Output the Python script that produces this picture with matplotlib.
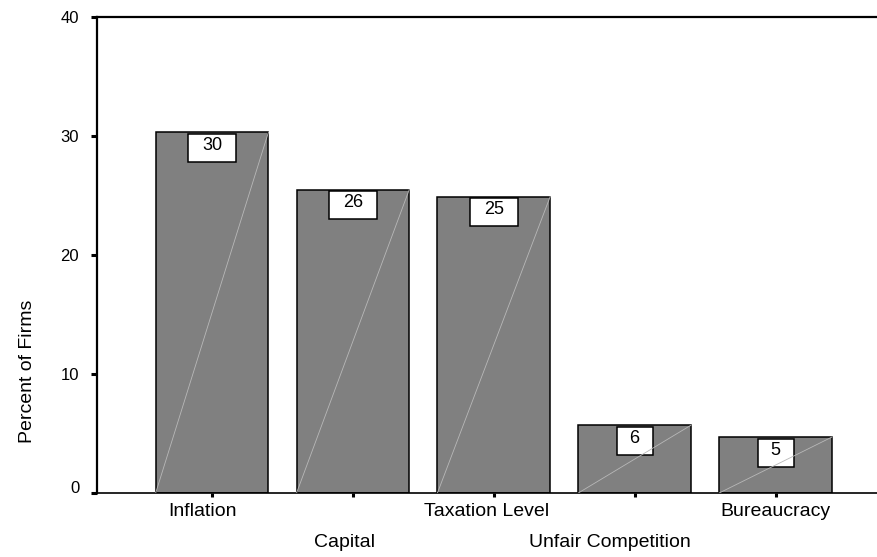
import matplotlib
matplotlib.use("Agg")
import matplotlib.pyplot as plt
import matplotlib.transforms as mtransforms
from matplotlib.patches import Rectangle

plt.rcParams['font.family'] = ['Liberation Sans', 'DejaVu Sans']

categories = ["Inflation", "Capital", "Taxation Level", "Unfair Competition", "Bureaucracy"]
percent = [30.3, 25.5, 24.9, 5.7, 4.7]
value_labels = ["30", "26", "25", "6", "5"]
y_ticks = [0, 10, 20, 30, 40]

fig = plt.figure(figsize=(8.77, 5.57), dpi=100)
ax = fig.add_axes([96.5 / 877, 1 - 493 / 557, 1 - 96.5 / 877, 476 / 557])

x = list(range(len(categories)))
bars = ax.bar(x, percent, width=0.8, color="#808080", edgecolor="black",
              linewidth=1.1, zorder=2)

ax.set_xlim(-0.82, 4.72)
ax.set_ylim(0, 40)

# pixel sizes -> data units
px_x = (4.72 + 0.82) / 780.5
px_y = 40 / 476.0

for b, lab in zip(bars, value_labels):
    x0, w, h = b.get_x(), b.get_width(), b.get_height()
    # faint diagonal line inside each bar
    ax.plot([x0, x0 + w], [0, h], color="#b8b8b8", lw=0.6, zorder=4)
    bw = (24 + 12 * len(lab)) * px_x
    bh = 28 * px_y
    top = h - 1.5 * px_y
    cx = x0 + w / 2
    ax.add_patch(Rectangle((cx - bw / 2, top - bh), bw, bh, facecolor="white",
                           edgecolor="black", linewidth=1.1, zorder=3))
    ax.text(cx, top - bh / 2 + 2.5 * px_y, lab, ha="center", va="center",
            fontsize=13, zorder=5)

ax.set_yticks(y_ticks)
ax.set_xticks(x)
ax.set_xticklabels(categories, fontsize=14)
ax.tick_params(axis="y", direction="out", length=4, width=2.2, pad=8.5, labelsize=12)
ax.tick_params(axis="x", direction="out", length=3, width=2.2, pad=4)

# staggered category labels, nudged sideways like the original
shifts = [-10, -8, -7.5, -25, 0]
for i, t in enumerate(ax.xaxis.get_major_ticks()):
    if i % 2 == 1:
        t.set_pad(4 + 22.3)
    lb = t.label1
    lb.set_transform(lb.get_transform() + mtransforms.ScaledTranslation(shifts[i] / 100, 0, fig.dpi_scale_trans))

# the zero label sits a little above its tick
lbl0 = ax.yaxis.get_major_ticks()[0].label1
lbl0.set_transform(lbl0.get_transform() + mtransforms.ScaledTranslation(0, 6 / 100, fig.dpi_scale_trans))

ax.set_ylabel("Percent of Firms", fontsize=14, labelpad=18)
ax.yaxis.label.set_y(0.255)

ax.spines["right"].set_visible(False)
ax.spines["left"].set_linewidth(1.6)
ax.spines["top"].set_linewidth(1.6)
ax.spines["bottom"].set_linewidth(1.2)

fig.savefig("out.png", dpi=100)
